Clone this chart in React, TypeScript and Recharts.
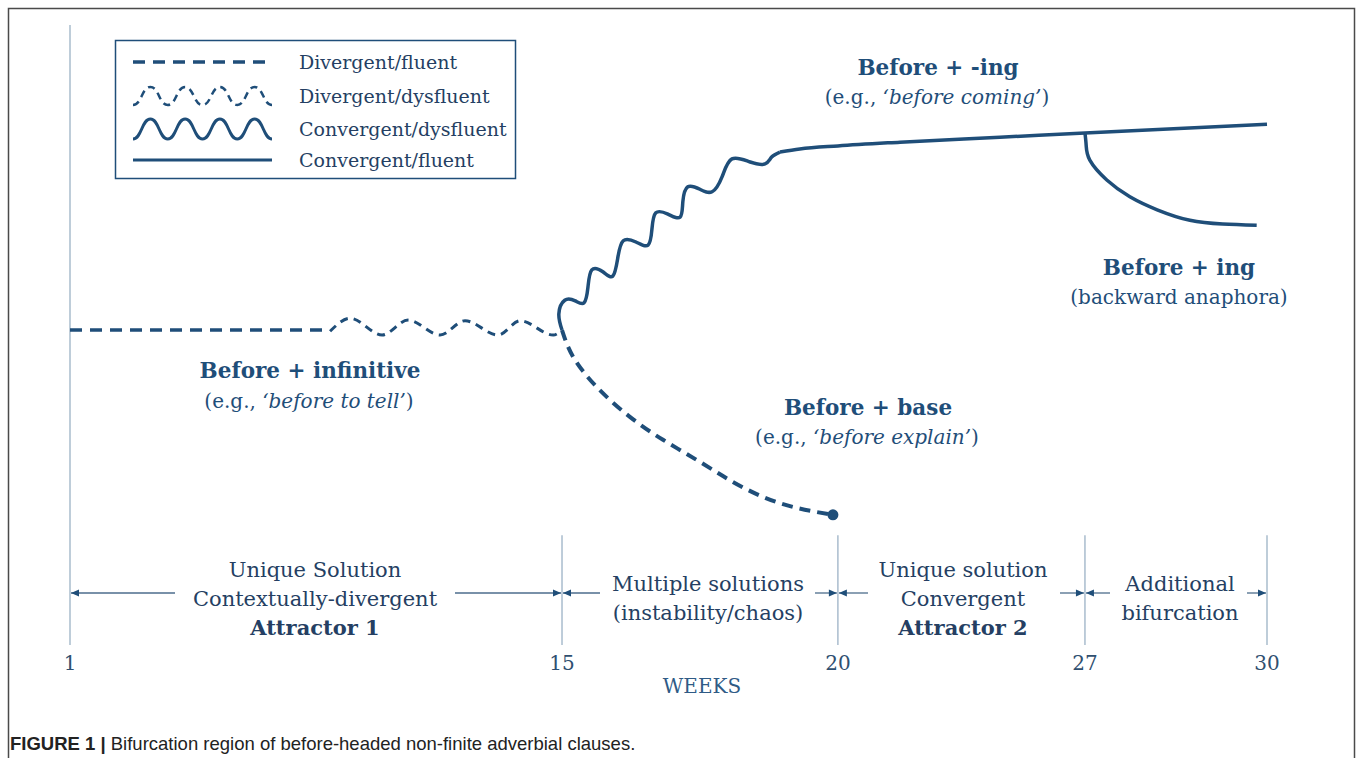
import React from 'react';
import { ComposedChart, Line, XAxis, YAxis, ReferenceLine, ReferenceDot, Customized } from 'recharts';

const NAVY = '#1f4e79';
const TEXT = '#253f63';
const GRID = '#a9bccd';
const SERIF = '"DejaVu Serif", Georgia, serif';

// Week ticks and where each sits along the (not-to-scale) axis
const tickWeeks = [1, 15, 20, 27, 30];
const tickPositions = [0, 14, 21.85, 28.88, 34.06];

const posOf = (w: number) => {
  for (let i = 0; i < tickWeeks.length - 1; i++) {
    if (w <= tickWeeks[i + 1] || i === tickWeeks.length - 2) {
      const t = (w - tickWeeks[i]) / (tickWeeks[i + 1] - tickWeeks[i]);
      return tickPositions[i] + t * (tickPositions[i + 1] - tickPositions[i]);
    }
  }
  return 0;
};

// Series (week, level)
const divergentFluent = [
  { week: 1, level: 50.8 },
  { week: 8.4, level: 50.8 },
];
const divergentDysfluent = [
  { week: 8.4, level: 50.6 },
  { week: 8.97, level: 52.7 },
  { week: 9.88, level: 50.0 },
  { week: 10.62, level: 52.4 },
  { week: 11.53, level: 50.0 },
  { week: 12.24, level: 52.3 },
  { week: 13.18, level: 50.0 },
  { week: 13.81, level: 52.3 },
  { week: 14.75, level: 50.0 },
  { week: 15.0, level: 50.8 },
];
const convergentDysfluent = [
  { week: 15.0, level: 50.8 },
  { week: 14.91, level: 53.4 },
  { week: 15.05, level: 55.6 },
  { week: 15.24, level: 55.5 },
  { week: 15.4, level: 55.2 },
  { week: 15.47, level: 57.7 },
  { week: 15.54, level: 60.5 },
  { week: 15.74, level: 60.2 },
  { week: 15.92, level: 59.5 },
  { week: 16.01, level: 62.4 },
  { week: 16.11, level: 65.2 },
  { week: 16.34, level: 65.0 },
  { week: 16.56, level: 64.5 },
  { week: 16.63, level: 67.1 },
  { week: 16.7, level: 69.7 },
  { week: 16.92, level: 69.5 },
  { week: 17.14, level: 69.0 },
  { week: 17.19, level: 71.5 },
  { week: 17.28, level: 73.9 },
  { week: 17.5, level: 73.5 },
  { week: 17.72, level: 73.1 },
  { week: 17.9, level: 75.5 },
  { week: 18.08, level: 78.4 },
  { week: 18.41, level: 77.9 },
  { week: 18.68, level: 77.6 },
  { week: 18.8, level: 78.7 },
  { week: 18.95, level: 79.5 },
];
const convergentFluent = [
  { week: 18.95, level: 79.5 },
  { week: 19.31, level: 80.0 },
  { week: 20.0, level: 80.5 },
  { week: 21.76, level: 81.1 },
  { week: 24.59, level: 81.9 },
  { week: 27.0, level: 82.6 },
  { week: 30.0, level: 84.0 },
];
const backwardAnaphora = [
  { week: 27.0, level: 82.6 },
  { week: 27.02, level: 80.6 },
  { week: 27.08, level: 78.2 },
  { week: 27.36, level: 75.0 },
  { week: 27.74, level: 72.3 },
  { week: 28.19, level: 70.2 },
  { week: 28.73, level: 68.5 },
  { week: 29.27, level: 67.9 },
  { week: 29.83, level: 67.7 },
];
const beforeBase = [
  { week: 15.0, level: 50.8 },
  { week: 15.2, level: 46.5 },
  { week: 15.63, level: 41.6 },
  { week: 16.23, level: 36.8 },
  { week: 16.83, level: 33.1 },
  { week: 17.45, level: 29.8 },
  { week: 18.04, level: 26.6 },
  { week: 18.64, level: 23.9 },
  { week: 19.26, level: 22.1 },
  { week: 19.91, level: 21.0 },
];

const legendItems = ['Divergent/fluent', 'Divergent/dysfluent', 'Convergent/dysfluent', 'Convergent/fluent'];

const toPts = (arr: { week: number; level: number }[]) => arr.map((d) => ({ pos: posOf(d.week), level: d.level }));

const W = 1357;
const H = 758;
const M = { top: 25, right: 90, bottom: 83, left: 70 };
const plotW = W - M.left - M.right;
const pxOf = (week: number) => M.left + (posOf(week) / tickPositions[tickPositions.length - 1]) * plotW;

const wavePath = (x0: number, x1: number, yTop: number, yBot: number, halves: number) => {
  const h = (x1 - x0) / halves;
  let d = `M${x0},${yBot}`;
  for (let i = 0; i < halves; i++) {
    const xs = x0 + i * h;
    const ya = i % 2 === 0 ? yBot : yTop;
    const yb = i % 2 === 0 ? yTop : yBot;
    d += ` C${xs + h / 2},${ya} ${xs + h / 2},${yb} ${xs + h},${yb}`;
  }
  return d;
};

const ArrowL = ({ x, y }: { x: number; y: number }) => (
  <polygon points={`${x},${y} ${x + 8},${y - 3.5} ${x + 8},${y + 3.5}`} fill={NAVY} />
);
const ArrowR = ({ x, y }: { x: number; y: number }) => (
  <polygon points={`${x},${y} ${x - 8},${y - 3.5} ${x - 8},${y + 3.5}`} fill={NAVY} />
);

const Overlay = () => {
  const ay = 593;
  const segs = [
    { a: 1, b: 15, l: 175, r: 455 },
    { a: 15, b: 20, l: 600, r: 815 },
    { a: 20, b: 27, l: 868, r: 1060 },
    { a: 27, b: 30, l: 1110, r: 1247 },
  ];
  const tStyle = { fontFamily: SERIF, fill: TEXT, fontSize: 21 } as const;
  const aStyle = { fontFamily: SERIF, fill: NAVY } as const;
  return (
    <g>
      <rect x={8.5} y={8.5} width={1346} height={800} fill="none" stroke="#4a4a4a" strokeWidth={1.5} />
      {/* legend */}
      <rect x={115.5} y={40.5} width={400} height={138} fill="#fff" stroke={NAVY} strokeWidth={1.5} />
      <line x1={133} y1={62} x2={272} y2={62} stroke={NAVY} strokeWidth={3.5} strokeDasharray="12 8" />
      <path d={wavePath(133, 272, 87, 105, 8)} fill="none" stroke={NAVY} strokeWidth={2.5} strokeDasharray="7 5" />
      <path d={wavePath(133, 272, 119, 139, 8)} fill="none" stroke={NAVY} strokeWidth={3} />
      <line x1={133} y1={160} x2={272} y2={160} stroke={NAVY} strokeWidth={3} />
      {legendItems.map((t, i) => (
        <text key={t} x={299} y={[69, 103, 136, 167][i]} fontSize={19} style={{ fontFamily: SERIF }} fill={TEXT}>
          {t}
        </text>
      ))}
      {/* annotations */}
      <text x={938} y={75} textAnchor="middle" fontSize={21.5} fontWeight="bold" style={aStyle}>Before + -ing</text>
      <text x={937} y={104} textAnchor="middle" fontSize={20} style={aStyle}>
        (e.g., <tspan fontStyle="italic">‘before coming’</tspan>)
      </text>
      <text x={1179} y={275} textAnchor="middle" fontSize={21.5} fontWeight="bold" style={aStyle}>Before + ing</text>
      <text x={1179} y={304} textAnchor="middle" fontSize={20} style={aStyle}>(backward anaphora)</text>
      <text x={310} y={378} textAnchor="middle" fontSize={21.5} fontWeight="bold" style={aStyle}>Before + infinitive</text>
      <text x={309} y={408} textAnchor="middle" fontSize={20} style={aStyle}>
        (e.g., <tspan fontStyle="italic">‘before to tell’</tspan>)
      </text>
      <text x={868} y={415} textAnchor="middle" fontSize={21.5} fontWeight="bold" style={aStyle}>Before + base</text>
      <text x={867} y={444} textAnchor="middle" fontSize={20} style={aStyle}>
        (e.g., <tspan fontStyle="italic">‘before explain’</tspan>)
      </text>
      {/* interval arrows */}
      {segs.map((s) => {
        const xa = pxOf(s.a) + 1;
        const xb = pxOf(s.b) - 1;
        return (
          <g key={s.a}>
            <line x1={xa} y1={ay} x2={s.l} y2={ay} stroke="#4d6d8c" strokeWidth={1.3} />
            <line x1={s.r} y1={ay} x2={xb} y2={ay} stroke="#4d6d8c" strokeWidth={1.3} />
            <ArrowL x={xa} y={ay} />
            <ArrowR x={xb} y={ay} />
          </g>
        );
      })}
      <text x={315} y={577} textAnchor="middle" style={tStyle}>Unique Solution</text>
      <text x={315} y={606} textAnchor="middle" style={tStyle}>Contextually-divergent</text>
      <text x={315} y={635} textAnchor="middle" fontWeight="bold" style={tStyle}>Attractor 1</text>
      <text x={708} y={591} textAnchor="middle" style={tStyle}>Multiple solutions</text>
      <text x={708} y={620} textAnchor="middle" style={tStyle}>(instability/chaos)</text>
      <text x={963} y={577} textAnchor="middle" style={tStyle}>Unique solution</text>
      <text x={963} y={606} textAnchor="middle" style={tStyle}>Convergent</text>
      <text x={963} y={635} textAnchor="middle" fontWeight="bold" style={tStyle}>Attractor 2</text>
      <text x={1180} y={591} textAnchor="middle" style={tStyle}>Additional</text>
      <text x={1180} y={620} textAnchor="middle" style={tStyle}>bifurcation</text>
      <text x={702} y={693} textAnchor="middle" fontSize={20} style={{ fontFamily: SERIF }} fill="#2f5b86">WEEKS</text>
      <text x={10} y={750} fontSize={18.5} style={{ fontFamily: '"Liberation Sans", Arial, sans-serif' }} fill="#222">
        <tspan fontWeight="bold">FIGURE 1 | </tspan>Bifurcation region of before-headed non-finite adverbial clauses.
      </text>
    </g>
  );
};

export default function App() {
  const maxPos = tickPositions[tickPositions.length - 1];
  const last = beforeBase[beforeBase.length - 1];
  const bottomLineTop = 17.7;
  return (
    <div style={{ position: 'absolute', left: 0, top: 0, width: W, height: H, background: '#fff' }}>
      <ComposedChart width={W} height={H} margin={M}>
        <XAxis
          type="number"
          dataKey="pos"
          domain={[0, maxPos]}
          ticks={tickPositions}
          interval={0}
          height={30}
          axisLine={false}
          tickLine={false}
          tickMargin={5}
          tickFormatter={(v: number) => String(tickWeeks[tickPositions.indexOf(v)] ?? '')}
          tick={{ fill: '#2f4f70', fontSize: 20, fontFamily: SERIF }}
        />
        <YAxis type="number" domain={[0, 100]} hide />
        <ReferenceLine x={0} stroke={GRID} strokeWidth={1.5} />
        {tickWeeks.slice(1).map((w) => (
          <ReferenceLine
            key={w}
            segment={[
              { x: posOf(w), y: 0 },
              { x: posOf(w), y: bottomLineTop },
            ]}
            stroke={GRID}
            strokeWidth={1.5}
          />
        ))}
        <Customized component={Overlay} />
        <Line data={toPts(divergentFluent)} dataKey="level" type="linear" stroke={NAVY} strokeWidth={3.5} strokeDasharray="12 8" dot={false} isAnimationActive={false} />
        <Line data={toPts(divergentDysfluent)} dataKey="level" type="monotone" stroke={NAVY} strokeWidth={3} strokeDasharray="8 6" dot={false} isAnimationActive={false} />
        <Line data={toPts(convergentDysfluent)} dataKey="level" type="natural" stroke={NAVY} strokeWidth={3.5} dot={false} isAnimationActive={false} />
        <Line data={toPts(convergentFluent)} dataKey="level" type="monotone" stroke={NAVY} strokeWidth={3.5} dot={false} isAnimationActive={false} />
        <Line data={toPts(backwardAnaphora)} dataKey="level" type="natural" stroke={NAVY} strokeWidth={3.5} dot={false} isAnimationActive={false} />
        <Line data={toPts(beforeBase)} dataKey="level" type="natural" stroke={NAVY} strokeWidth={4} strokeDasharray="11 7" dot={false} isAnimationActive={false} />
        <ReferenceDot x={posOf(last.week)} y={last.level} r={5.5} fill={NAVY} stroke="none" />
      </ComposedChart>
    </div>
  );
}
